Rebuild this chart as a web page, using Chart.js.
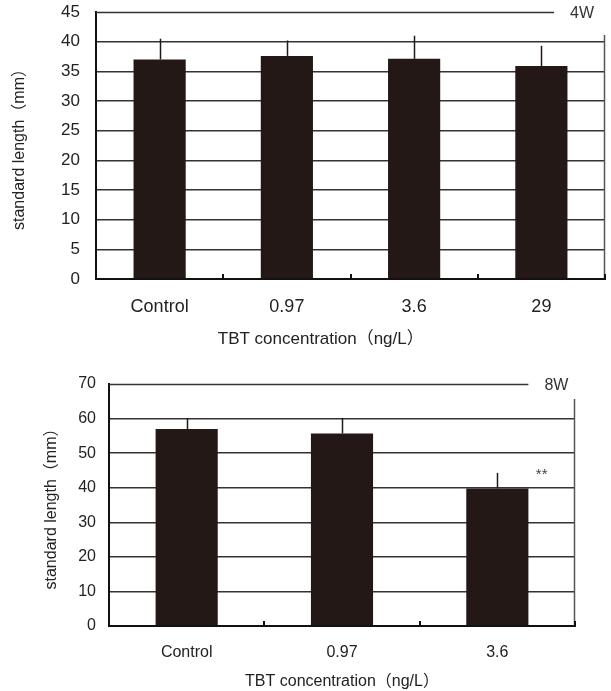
<!DOCTYPE html>
<html>
<head>
<meta charset="utf-8">
<script src="https://cdn.jsdelivr.net/npm/chart.js@4"></script>
<style>
  html, body { margin: 0; padding: 0; background: #fff; }
  .wrap { position: relative; width: 611px; }
  #chart4w { display: block; width: 611px; height: 350px; }
  #chart8w { display: block; width: 611px; height: 341px; }
</style>
</head>
<body>
<div class="wrap"><canvas id="chart4w" width="611" height="350"></canvas></div>
<div class="wrap"><canvas id="chart8w" width="611" height="341"></canvas></div>
<script>
// 4 weeks
const groups4w = ['Control', '0.97', '3.6', '29'];
const length4w = [37.0, 37.6, 37.1, 35.9];
const error4w = [3.5, 2.6, 3.9, 3.4];
const yMax4w = 45;
const yStep4w = 5;

// 8 weeks
const groups8w = ['Control', '0.97', '3.6'];
const length8w = [57.0, 55.7, 39.8];
const error8w = [3.1, 4.5, 4.5];
const marks8w = ['', '', '**'];
const yMax8w = 70;
const yStep8w = 10;

const FONT = '"Liberation Sans", "Noto Sans CJK JP", Arial, sans-serif';
const INK = '#231815';

// error bars, partial top line, week label, right border, category ticks
const decorPlugin = {
  id: 'decor',
  afterDatasetsDraw(chart, args, opts) {
    const ctx = chart.ctx;
    const meta = chart.getDatasetMeta(0);
    const yScale = chart.scales.y;
    const values = chart.data.datasets[0].data;

    ctx.save();
    ctx.strokeStyle = INK;
    ctx.lineWidth = 1.5;
    meta.data.forEach((bar, i) => {
      const top = yScale.getPixelForValue(values[i] + opts.errors[i]);
      ctx.beginPath();
      ctx.moveTo(Math.round(bar.x) + 0.5, bar.y);
      ctx.lineTo(Math.round(bar.x) + 0.5, top);
      ctx.stroke();
    });

    // significance marks
    ctx.fillStyle = '#444';
    ctx.font = '15px ' + FONT;
    ctx.textAlign = 'left';
    ctx.textBaseline = 'middle';
    (opts.marks || []).forEach((m, i) => {
      if (!m) return;
      const bar = meta.data[i];
      const y = yScale.getPixelForValue(values[i] + opts.errors[i]);
      ctx.fillText(m, bar.x + bar.width * 0.62, y + 2);
    });
    ctx.restore();
  },
  afterDraw(chart, args, opts) {
    const ctx = chart.ctx;
    const area = chart.chartArea;
    const yScale = chart.scales.y;
    const xScale = chart.scales.x;
    const yTop = Math.round(yScale.getPixelForValue(yScale.max));
    const lineEnd = area.left + (area.right - area.left) * 0.9;

    ctx.save();
    // top line that stops before the week label
    ctx.strokeStyle = '#333';
    ctx.lineWidth = 1.5;
    ctx.beginPath();
    ctx.moveTo(area.left, yTop + 0.5);
    ctx.lineTo(lineEnd, yTop + 0.5);
    ctx.stroke();

    // week label
    ctx.fillStyle = '#333';
    ctx.font = opts.labelSize + 'px ' + FONT;
    ctx.textAlign = 'left';
    ctx.textBaseline = 'middle';
    ctx.fillText(opts.label, lineEnd + 16, yTop + 2);

    // right border
    ctx.strokeStyle = '#555';
    ctx.lineWidth = 1.5;
    ctx.beginPath();
    ctx.moveTo(area.right - 0.5, yTop + opts.rightGap);
    ctx.lineTo(area.right - 0.5, area.bottom);
    ctx.stroke();

    // small ticks at category boundaries, pointing up
    ctx.strokeStyle = '#111';
    ctx.lineWidth = 2;
    for (let i = 1; i <= chart.data.labels.length; i++) {
      const x = Math.round(xScale.getPixelForValue(i - 0.5));
      ctx.beginPath();
      ctx.moveTo(x, area.bottom);
      ctx.lineTo(x, area.bottom - 5);
      ctx.stroke();
    }
    ctx.restore();
  }
};

function makeChart(id, labels, values, errors, marks, yMax, yStep, sizes) {
  return new Chart(document.getElementById(id), {
    type: 'bar',
    data: {
      labels,
      datasets: [{
        data: values,
        backgroundColor: INK,
        borderWidth: 0,
        categoryPercentage: 1,
        barPercentage: sizes.barPct
      }]
    },
    options: {
      responsive: false,
      animation: false,
      events: [],
      layout: {
        padding: { top: sizes.top, right: sizes.right, bottom: 0, left: 0 }
      },
      plugins: {
        legend: { display: false },
        tooltip: { enabled: false },
        decor: {
          errors,
          marks,
          label: sizes.label,
          labelSize: sizes.labelSize,
          rightGap: sizes.rightGap
        }
      },
      scales: {
        x: {
          afterFit(scale) {
            scale.height = sizes.xHeight;
            scale.paddingLeft = 0;
            scale.paddingRight = 0;
          },
          grid: { display: false, drawTicks: false },
          border: { display: true, color: '#111', width: 2 },
          ticks: {
            color: '#222',
            padding: sizes.xPad,
            font: { family: FONT, size: sizes.xFont }
          },
          title: {
            display: true,
            text: 'TBT concentration（ng/L）' + sizes.titleShift,
            color: '#222',
            padding: { top: sizes.titlePad, bottom: 0 },
            font: { family: FONT, size: sizes.titleFont }
          }
        },
        y: {
          min: 0,
          max: yMax,
          afterFit(scale) {
            scale.width = sizes.yWidth;
            scale.paddingTop = 0;
            scale.paddingBottom = 0;
          },
          grid: {
            drawTicks: false,
            lineWidth: 1.5,
            color: (c) => (c.tick && c.tick.value === yMax ? 'rgba(0,0,0,0)' : '#333')
          },
          border: { display: true, color: '#111', width: 2 },
          ticks: {
            stepSize: yStep,
            color: '#222',
            padding: sizes.yPad,
            font: { family: FONT, size: sizes.yFont }
          },
          title: {
            display: true,
            text: 'standard length（mm）',
            color: '#222',
            padding: { top: sizes.yTitlePad, bottom: 0 },
            font: { family: FONT, size: sizes.yTitleFont }
          }
        }
      }
    },
    plugins: [decorPlugin]
  });
}

makeChart('chart4w', groups4w, length4w, error4w, [], yMax4w, yStep4w, {
  barPct: 0.41, top: 12, right: 6, xHeight: 71, yWidth: 96,
  xPad: 17, xFont: 18, titlePad: 8, titleFont: 17, titleShift: '\u3000\u3000\u3000\u3000',
  yPad: 16, yFont: 17, yTitlePad: 10, yTitleFont: 16,
  label: '4W', labelSize: 16, rightGap: 23
});

makeChart('chart8w', groups8w, length8w, error8w, marks8w, yMax8w, yStep8w, {
  barPct: 0.4, top: 34, right: 36, xHeight: 65, yWidth: 109,
  xPad: 17, xFont: 16, titlePad: 7, titleFont: 16, titleShift: '',
  yPad: 13, yFont: 16, yTitlePad: 42, yTitleFont: 16,
  label: '8W', labelSize: 16, rightGap: 15
});
</script>
</body>
</html>
